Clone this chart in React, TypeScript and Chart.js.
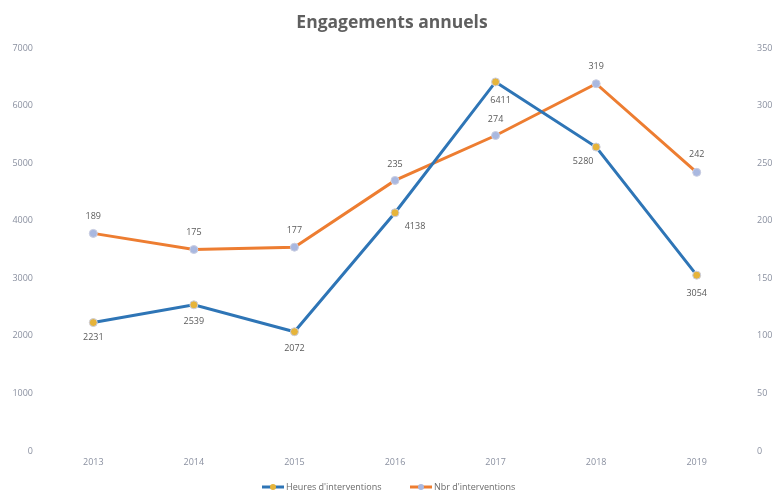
import React, { useEffect, useRef } from "react";
import { Chart, registerables } from "chart.js";

Chart.register(...registerables);

const categories = ["2013", "2014", "2015", "2016", "2017", "2018", "2019"];
const heuresInterventions = [2231, 2539, 2072, 4138, 6411, 5280, 3054];
const nbrInterventions = [189, 175, 177, 235, 274, 319, 242];
const heuresLabel = "Heures d'interventions";
const nbrLabel = "Nbr d'interventions";
const titleText = "Engagements annuels";

// label offsets (dx, dy) relative to the point, in px
const heuresOffsets: [number, number][] = [[0, 15], [0, 17], [0, 17], [20, 14], [5, 19], [-13, 14], [0, 18]];
const nbrOffsets: [number, number][] = [[0, -17], [0, -17], [0, -17], [0, -16], [0, -16], [0, -17], [0, -18]];

const FONT = "'Open Sans', 'DejaVu Sans', sans-serif";

const dataLabelPlugin = {
  id: "dataLabels",
  afterDatasetsDraw(chart: any) {
    const ctx = chart.ctx;
    ctx.save();
    ctx.font = `9px ${FONT}`;
    ctx.fillStyle = "#5a5a5a";
    ctx.textAlign = "center";
    ctx.textBaseline = "middle";
    chart.data.datasets.forEach((ds: any, di: number) => {
      const meta = chart.getDatasetMeta(di);
      const offs = di === 0 ? heuresOffsets : nbrOffsets;
      meta.data.forEach((pt: any, i: number) => {
        const [dx, dy] = offs[i];
        ctx.fillText(String(ds.data[i]), pt.x + dx, pt.y + dy);
      });
    });
    ctx.restore();
  },
};

const legendPlugin = {
  id: "customLegend",
  afterDraw(chart: any) {
    const ctx = chart.ctx;
    const y = 487;
    const items = [
      { text: heuresLabel, line: "#2e75b6", dot: "#e6b43a", x: 262 },
      { text: nbrLabel, line: "#ed7d31", dot: "#a9b8e0", x: 410 },
    ];
    ctx.save();
    ctx.font = `9px ${FONT}`;
    ctx.textBaseline = "middle";
    ctx.textAlign = "left";
    items.forEach((it) => {
      ctx.strokeStyle = it.line;
      ctx.lineWidth = 3;
      ctx.beginPath();
      ctx.moveTo(it.x, y);
      ctx.lineTo(it.x + 22, y);
      ctx.stroke();
      ctx.fillStyle = it.dot;
      ctx.beginPath();
      ctx.arc(it.x + 11, y, 3, 0, Math.PI * 2);
      ctx.fill();
      ctx.fillStyle = "#6a6a6a";
      ctx.fillText(it.text, it.x + 24, y);
    });
    ctx.restore();
  },
};

export default function App() {
  const ref = useRef<HTMLCanvasElement | null>(null);
  useEffect(() => {
    document.body.style.margin = "0";
    const tickFont = { family: FONT, size: 9 };
    const chart = new Chart(ref.current as HTMLCanvasElement, {
      type: "line",
      data: {
        labels: categories,
        datasets: [
          {
            label: heuresLabel,
            data: heuresInterventions,
            borderColor: "#2e75b6",
            borderWidth: 3,
            pointBackgroundColor: "#e6b43a",
            pointBorderColor: "#c9cde0",
            pointBorderWidth: 1,
            pointRadius: 4,
            yAxisID: "y",
            tension: 0,
          },
          {
            label: nbrLabel,
            data: nbrInterventions,
            borderColor: "#ed7d31",
            borderWidth: 3,
            pointBackgroundColor: "#a9b8e0",
            pointBorderColor: "#c9cde0",
            pointBorderWidth: 1,
            pointRadius: 4,
            yAxisID: "y1",
            tension: 0,
          },
        ],
      },
      options: {
        animation: false,
        responsive: false,
        layout: { padding: { left: 11, right: 4, bottom: 21, top: 0 } },
        plugins: {
          legend: { display: false },
          tooltip: { enabled: false },
          title: {
            display: true,
            text: titleText,
            color: "#5f5f5f",
            font: { family: FONT, size: 17.5, weight: "bold" },
            padding: { top: 13, bottom: 14 },
          },
        },
        scales: {
          x: {
            offset: true,
            grid: { display: false, drawTicks: false },
            border: { display: false },
            ticks: { color: "#8a90a0", font: tickFont, padding: 6 },
            afterFit: (s: any) => { s.height = 20; },
          },
          y: {
            position: "left",
            min: 0,
            max: 7000,
            grid: { display: false, drawTicks: false },
            border: { display: false },
            ticks: { stepSize: 1000, color: "#8a90a0", font: tickFont, padding: 10, callback: (v: any) => String(v) },
            afterFit: (s: any) => { s.width = 32; },
          },
          y1: {
            position: "right",
            min: 0,
            max: 350,
            grid: { display: false, drawTicks: false },
            border: { display: false },
            ticks: { stepSize: 50, color: "#8a90a0", font: tickFont, padding: 10, callback: (v: any) => String(v) },
            afterFit: (s: any) => { s.width = 26; },
          },
        },
      },
      plugins: [dataLabelPlugin, legendPlugin],
    });
    return () => chart.destroy();
  }, []);
  return <canvas ref={ref} width={777} height={492} style={{ display: "block" }} />;
}
